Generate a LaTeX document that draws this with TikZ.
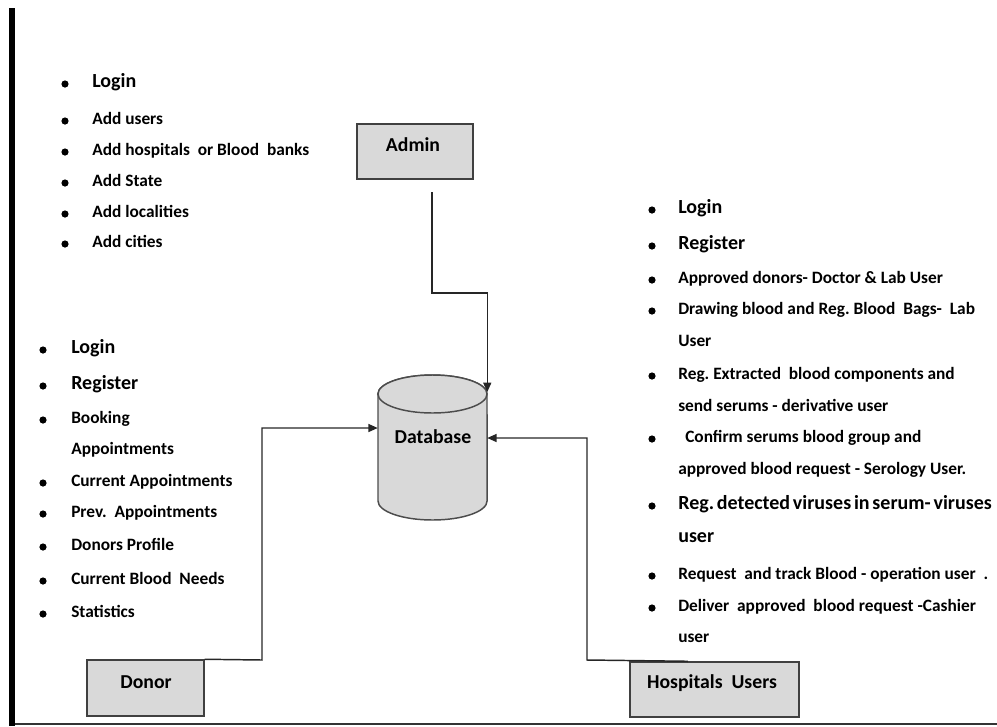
\documentclass[tikz,border=0pt]{standalone}
\usepackage{fontspec}
\setmainfont{Carlito}
\usetikzlibrary{arrows.meta}
\frenchspacing

% list item: [style] name, bullet x, text x, y, text
\newcommand{\bitem}[6][]{%
  \node[dot] (#2b) at (#3,#5+1) {};
  \node[item,#1] (#2) at (#4,#5) {#6};}
% continuation line of an item (no bullet)
\newcommand{\citem}[5][]{%
  \node[item,#1] (#2) at (#3,#4) {#5};}

\begin{document}
\begin{tikzpicture}[x=0.75pt,y=-0.75pt,
  item/.style={anchor=west,inner sep=0pt,text height=0.65em,text depth=0pt,
    font=\bfseries\fontsize{13}{15}\selectfont},
  big/.style={font=\bfseries\fontsize{15}{18}\selectfont},
  dot/.style={circle,fill=black,inner sep=0pt,minimum size=5.4pt},
  box/.style={draw=black!75,fill=black!15,line width=1.1pt,inner sep=0pt},
  boxtext/.style={inner sep=0pt,font=\bfseries\fontsize{14.8}{17}\selectfont},
  conn/.style={draw=black!85,line width=1.1pt,-{Triangle[length=7pt,width=6pt]}},
  cyl/.style={draw=black!70,fill=black!15,line width=1.1pt}]
\useasboundingbox (0,0) rectangle (997,726);

% page frame: thick left rule and thin bottom rule
\fill[black] (9,8) rectangle (15,726);
\draw[black!80,line width=1.1pt] (15,724) -- (997,724);

% actor boxes
\node[box,minimum width=87pt,minimum height=41.25pt] (admin) at (415,151.5) {};
\node[boxtext] (admintxt) at (413,145) {Admin};
\node[box,minimum width=87.75pt,minimum height=42pt] (donor) at (145.5,688) {};
\node[boxtext] (donortxt) at (146,682) {Donor};
\node[box,minimum width=126.75pt,minimum height=41.25pt] (hosp) at (714.5,689.5) {};
\node[boxtext] (hosptxt) at (712,683) {Hospitals\ \ Users};

% database cylinder
\node[inner sep=0pt,minimum width=81.75pt,minimum height=108.75pt] (db) at (432.5,447.5) {};
\draw[cyl] (378,394) -- (378,501)
  arc[start angle=180,end angle=360,x radius=40.9pt,y radius=14.25pt]
  -- (487,394)
  arc[start angle=0,end angle=180,x radius=40.9pt,y radius=14.25pt] -- cycle;
\draw[cyl] (432.5,394) ellipse[x radius=40.9pt,y radius=14.25pt];
\node[boxtext] (dbtxt) at (433,437) {Database};

% connectors into the database
\coordinate (a0) at (432,192);
\draw[conn] (a0) -- (432,293) -| (db.east |- 0,392);
\draw[conn] (donor.north east) -- (262,660) |- (db.west |- 0,428);
\draw[conn] ([xshift=-19.9pt]hosp.north) -- (587,660) |- (db.east |- 0,438);

% admin functions
\bitem[big]{a1}{65}{92}{83}{Login}
\bitem{a2}{65}{92}{120}{Add users}
\bitem{a3}{65}{92}{151}{Add hospitals\ \ or Blood\ \ banks}
\bitem{a4}{65}{92}{182}{Add State}
\bitem{a5}{65}{92}{213}{Add localities}
\bitem{a6}{65}{92}{243}{Add cities}

% donor functions
\bitem[big]{d1}{43}{71}{349}{Login}
\bitem[big]{d2}{43}{71}{385}{Register}
\bitem{d3}{43}{71}{419}{Booking}
\citem{d3b}{71}{450}{Appointments}
\bitem{d4}{43}{71}{482}{Current Appointments}
\bitem{d5}{43}{71}{513}{Prev.\ \ Appointments}
\bitem{d6}{43}{71}{546}{Donors Profile}
\bitem{d7}{43}{71}{580}{Current Blood\ \ Needs}
\bitem{d8}{43}{71}{613}{Statistics}

% hospital user functions
\bitem[big]{h1}{652}{678}{209}{Login}
\bitem[big]{h2}{652}{678}{245}{Register}
\bitem{h3}{652}{678}{279}{Approved donors- Doctor \& Lab User}
\bitem{h4}{652}{678}{310}{Drawing blood and Reg. Blood\ \ Bags-\ \ Lab}
\citem{h4b}{678}{342}{User}
\bitem{h5}{652}{678}{375}{Reg. Extracted\ \ blood components and}
\citem{h5b}{678}{407}{send serums - derivative user}
\bitem{h6}{652}{685}{438}{Confirm serums blood group and}
\citem{h6b}{678}{470}{approved blood request - Serology User.}
\bitem[big]{h7}{652}{678}{505}{\spaceskip=0.14em Reg. detected viruses in serum- viruses}
\citem[big]{h7b}{678}{538}{user}
\bitem{h8}{652}{678}{575}{Request\ \ and track Blood - operation user\ \ .}
\bitem{h9}{652}{678}{607}{Deliver\ \ approved\ \ blood request -Cashier}
\citem{h9b}{678}{638}{user}
\end{tikzpicture}
\end{document}
